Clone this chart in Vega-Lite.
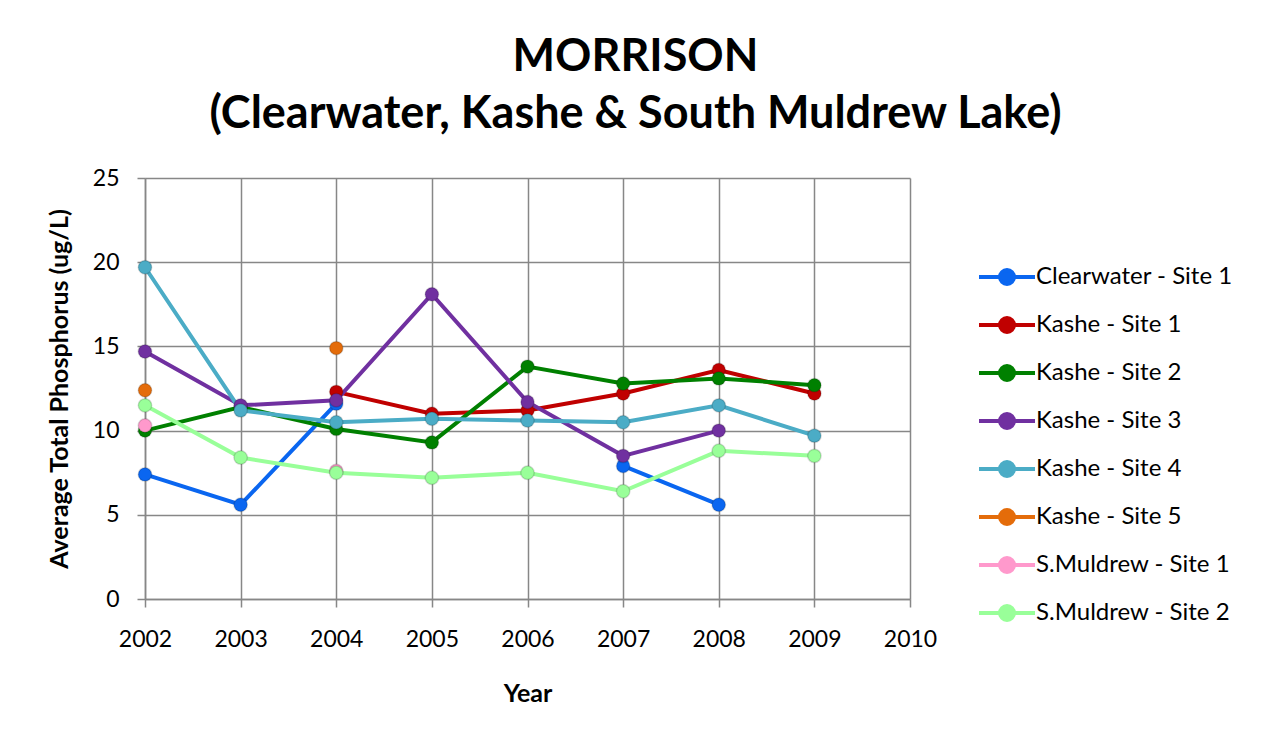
{
  "$schema": "https://vega.github.io/schema/vega-lite/v6.json",
  "autosize": "none",
  "width": 765,
  "height": 421,
  "padding": {"left": 145, "top": 178, "right": 353, "bottom": 139},
  "background": "white",
  "title": {
    "text": ["MORRISON", "(Clearwater, Kashe & South Muldrew Lake)"],
    "anchor": "middle",
    "frame": "group",
    "dx": 108,
    "offset": 30,
    "font": "Lato",
    "fontSize": 45,
    "fontWeight": "bold",
    "lineHeight": 57,
    "color": "black"
  },
  "config": {
    "view": {"stroke": null},
    "axis": {
      "labelFont": "Lato",
      "labelFontSize": 23,
      "labelColor": "black",
      "titleFont": "Lato",
      "titleFontSize": 25,
      "titleFontWeight": "bold",
      "titleColor": "black",
      "gridColor": "#878787",
      "gridWidth": 1.5,
      "domainColor": "#878787",
      "domainWidth": 1.5,
      "tickColor": "#878787",
      "tickWidth": 1.5,
      "tickSize": 8
    },
    "legend": {
      "labelFont": "Lato",
      "labelFontSize": 24,
      "labelColor": "black",
      "labelLimit": 400
    }
  },
  "data": {
    "values": [
      {"series": "Clearwater - Site 1", "year": 2002, "value": 7.4},
      {"series": "Clearwater - Site 1", "year": 2003, "value": 5.6},
      {"series": "Clearwater - Site 1", "year": 2004, "value": 11.6},
      {"series": "Clearwater - Site 1", "year": 2005, "value": null},
      {"series": "Clearwater - Site 1", "year": 2006, "value": null},
      {"series": "Clearwater - Site 1", "year": 2007, "value": 7.9},
      {"series": "Clearwater - Site 1", "year": 2008, "value": 5.6},
      {"series": "Kashe - Site 1", "year": 2004, "value": 12.3},
      {"series": "Kashe - Site 1", "year": 2005, "value": 11.0},
      {"series": "Kashe - Site 1", "year": 2006, "value": 11.2},
      {"series": "Kashe - Site 1", "year": 2007, "value": 12.2},
      {"series": "Kashe - Site 1", "year": 2008, "value": 13.6},
      {"series": "Kashe - Site 1", "year": 2009, "value": 12.2},
      {"series": "Kashe - Site 2", "year": 2002, "value": 10.0},
      {"series": "Kashe - Site 2", "year": 2003, "value": 11.4},
      {"series": "Kashe - Site 2", "year": 2004, "value": 10.1},
      {"series": "Kashe - Site 2", "year": 2005, "value": 9.3},
      {"series": "Kashe - Site 2", "year": 2006, "value": 13.8},
      {"series": "Kashe - Site 2", "year": 2007, "value": 12.8},
      {"series": "Kashe - Site 2", "year": 2008, "value": 13.1},
      {"series": "Kashe - Site 2", "year": 2009, "value": 12.7},
      {"series": "Kashe - Site 3", "year": 2002, "value": 14.7},
      {"series": "Kashe - Site 3", "year": 2003, "value": 11.5},
      {"series": "Kashe - Site 3", "year": 2004, "value": 11.8},
      {"series": "Kashe - Site 3", "year": 2005, "value": 18.1},
      {"series": "Kashe - Site 3", "year": 2006, "value": 11.7},
      {"series": "Kashe - Site 3", "year": 2007, "value": 8.5},
      {"series": "Kashe - Site 3", "year": 2008, "value": 10.0},
      {"series": "Kashe - Site 4", "year": 2002, "value": 19.7},
      {"series": "Kashe - Site 4", "year": 2003, "value": 11.2},
      {"series": "Kashe - Site 4", "year": 2004, "value": 10.5},
      {"series": "Kashe - Site 4", "year": 2005, "value": 10.7},
      {"series": "Kashe - Site 4", "year": 2006, "value": 10.6},
      {"series": "Kashe - Site 4", "year": 2007, "value": 10.5},
      {"series": "Kashe - Site 4", "year": 2008, "value": 11.5},
      {"series": "Kashe - Site 4", "year": 2009, "value": 9.7},
      {"series": "Kashe - Site 5", "year": 2002, "value": 12.4},
      {"series": "Kashe - Site 5", "year": 2003, "value": null},
      {"series": "Kashe - Site 5", "year": 2004, "value": 14.9},
      {"series": "S.Muldrew - Site 1", "year": 2002, "value": 10.3},
      {"series": "S.Muldrew - Site 1", "year": 2003, "value": null},
      {"series": "S.Muldrew - Site 1", "year": 2004, "value": 7.6},
      {"series": "S.Muldrew - Site 2", "year": 2002, "value": 11.5},
      {"series": "S.Muldrew - Site 2", "year": 2003, "value": 8.4},
      {"series": "S.Muldrew - Site 2", "year": 2004, "value": 7.5},
      {"series": "S.Muldrew - Site 2", "year": 2005, "value": 7.2},
      {"series": "S.Muldrew - Site 2", "year": 2006, "value": 7.5},
      {"series": "S.Muldrew - Site 2", "year": 2007, "value": 6.4},
      {"series": "S.Muldrew - Site 2", "year": 2008, "value": 8.8},
      {"series": "S.Muldrew - Site 2", "year": 2009, "value": 8.5}
    ]
  },
  "encoding": {
    "x": {
      "field": "year",
      "type": "quantitative",
      "scale": {"domain": [2002, 2010], "nice": false, "zero": false},
      "axis": {
        "values": [2002, 2003, 2004, 2005, 2006, 2007, 2008, 2009, 2010],
        "format": "d",
        "title": "Year",
        "labelPadding": 21,
        "titlePadding": 30,
        "labelFlush": false
      }
    },
    "y": {
      "field": "value",
      "type": "quantitative",
      "scale": {"domain": [0, 25], "nice": false},
      "axis": {
        "values": [0, 5, 10, 15, 20, 25],
        "title": "Average Total Phosphorus (ug/L)",
        "labelPadding": 18,
        "titlePadding": 20
      }
    },
    "color": {
      "field": "series",
      "type": "nominal",
      "scale": {
        "domain": ["Clearwater - Site 1", "Kashe - Site 1", "Kashe - Site 2", "Kashe - Site 3", "Kashe - Site 4", "Kashe - Site 5", "S.Muldrew - Site 1", "S.Muldrew - Site 2"],
        "range": ["#0a66f0", "#c00000", "#008000", "#7030a0", "#4bacc6", "#e46c0a", "#ff99cc", "#99ff99"]
      },
      "legend": {
        "title": null,
        "orient": "none",
        "legendX": 846,
        "legendY": 83,
        "symbolType": "M-2,0L2,0M-0.5,0A0.5,0.5 0 1,1 0.5,0A0.5,0.5 0 1,1 -0.5,0Z",
        "symbolSize": 784,
        "symbolStrokeWidth": 4,
        "labelOffset": 13,
        "rowPadding": 17,
        "encode": {
          "symbols": {
            "update": {
              "fill": {"scale": "color", "field": "value"},
              "stroke": {"scale": "color", "field": "value"},
              "opacity": {"value": 1}
            }
          }
        }
      }
    }
  },
  "layer": [
    {
      "mark": {"type": "line", "strokeWidth": 4, "invalid": "break-paths-filter-domains"}
    },
    {
      "mark": {"type": "point", "filled": true, "size": 180, "opacity": 1, "stroke": "#000000", "strokeOpacity": 0.15, "strokeWidth": 1.5}
    }
  ]
}
